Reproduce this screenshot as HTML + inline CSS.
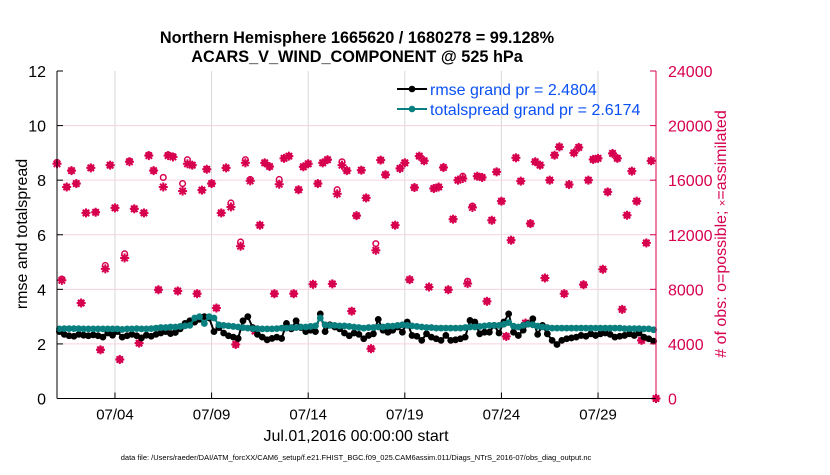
<!DOCTYPE html>
<html><head><meta charset="utf-8"><style>
body{margin:0;background:#fff;}
svg text{font-family:"Liberation Sans",Arial,sans-serif;}
</style></head><body>
<svg id="chart" width="830" height="470" xmlns="http://www.w3.org/2000/svg">
<g id="grid"></g>
<g id="series"></g>
<g id="axes"></g>
<text x="357" y="43" font-size="16.3" font-weight="bold" text-anchor="middle">Northern Hemisphere 1665620 / 1680278 = 99.128%</text>
<text x="357" y="62" font-size="16.3" font-weight="bold" text-anchor="middle">ACARS_V_WIND_COMPONENT @ 525 hPa</text>
<text transform="translate(27,234) rotate(-90)" font-size="16" text-anchor="middle">rmse and totalspread</text>
<text transform="translate(726,234) rotate(-90)" font-size="16" fill="#d6004f" text-anchor="middle"># of obs: o=possible; <tspan font-size="11">×</tspan>=assimilated</text>
<text x="356" y="441" font-size="16" text-anchor="middle">Jul.01,2016 00:00:00 start</text>
<text x="356" y="460" font-size="7.5" text-anchor="middle">data file: /Users/raeder/DAI/ATM_forcXX/CAM6_setup/f.e21.FHIST_BGC.f09_025.CAM6assim.011/Diags_NTrS_2016-07/obs_diag_output.nc</text>
<g>
<line x1="397" y1="89" x2="427" y2="89" stroke="#000" stroke-width="2"/><circle cx="412" cy="89" r="3.3" fill="#000"/>
<text x="430" y="95" font-size="16" fill="#0a50f5">rmse grand pr = 2.4804</text>
<line x1="397" y1="109" x2="427" y2="109" stroke="#0a7f7f" stroke-width="2"/><circle cx="412" cy="109" r="3.3" fill="#0a7f7f"/>
<text x="430" y="115" font-size="16" fill="#0a50f5">totalspread grand pr = 2.6174</text>
</g>
</svg>
<script>
const rmse=[2.45,2.35,2.30,2.28,2.35,2.32,2.30,2.33,2.30,2.25,2.40,2.32,
2.45,2.25,2.30,2.35,2.30,2.22,2.32,2.28,2.35,2.40,2.45,2.38,
2.42,2.55,2.75,2.85,2.80,2.90,3.00,2.95,2.45,2.60,2.40,2.30,
2.25,2.20,2.85,3.00,2.60,2.35,2.25,2.15,2.20,2.25,2.20,2.75,
2.55,2.85,2.60,2.45,2.50,2.45,3.10,2.45,2.70,2.62,2.55,2.40,
2.30,2.40,2.35,
2.19,2.31,2.37,2.90,2.50,2.43,2.50,2.62,2.43,2.80,2.31,2.28,2.13,2.37,2.25,2.19,2.13,2.31,2.13,2.15,
2.19,2.25,2.86,2.80,2.37,2.43,2.43,2.68,2.40,2.80,3.10,2.43,2.31,2.50,2.74,2.92,2.35,2.68,2.37,2.13,
1.98,2.13,2.19,2.22,2.25,2.31,2.28,2.37,2.31,2.37,2.40,2.35,2.25,2.28,2.31,2.37,2.31,2.40,2.25,2.19,2.10];
const spread=[2.55,2.56,2.56,2.56,2.56,2.55,2.55,2.55,2.55,2.55,2.55,2.55,
2.55,2.53,2.55,2.55,2.56,2.55,2.55,2.56,2.58,2.60,2.60,2.62,
2.62,2.64,2.66,2.68,2.95,3.00,2.75,3.00,2.95,2.70,2.68,2.66,
2.64,2.62,2.60,2.58,2.56,2.56,2.55,2.55,2.55,2.56,2.58,2.58,
2.60,2.60,2.62,2.62,2.64,2.66,2.95,2.70,2.68,2.68,2.66,2.66,
2.64,2.62,2.60,
2.58,2.60,2.60,2.62,2.62,2.65,2.65,2.68,2.70,2.68,2.66,2.64,2.62,2.60,2.60,2.58,2.58,2.58,2.58,2.58,
2.58,2.60,2.62,2.62,2.64,2.66,2.68,2.68,2.68,2.72,2.78,2.65,2.62,2.68,2.72,2.70,2.65,2.62,2.60,2.58,
2.58,2.58,2.58,2.58,2.58,2.58,2.58,2.58,2.58,2.58,2.58,2.58,2.58,2.58,2.56,2.56,2.56,2.56,2.55,2.55,2.52];
const nAssim=[17.2,8.66,15.5,16.7,15.75,7.0,13.6,16.9,13.65,3.57,
9.5,17.1,13.97,2.86,10.3,17.35,13.9,4.06,13.6,17.8,
16.7,7.97,15.5,17.8,17.7,7.88,15.2,17.2,17.1,7.68,
15.27,16.8,15.75,6.63,13.6,16.9,14.04,3.96,11.16,17.27,
15.95,4.94,12.7,17.27,17.0,7.68,15.7,17.6,17.76,7.68,
15.3,16.98,17.2,8.37,15.75,17.27,17.5,8.4,15.0,17.1,
16.7,6.4,13.4,
16.73,14.7,3.65,10.86,17.47,16.4,5.06,12.7,16.86,17.27,
8.71,15.46,17.76,17.42,8.17,15.39,15.5,16.93,7.97,13.14,
16.0,16.12,8.42,14.0,16.29,16.2,7.12,13.06,16.61,14.46,
4.55,11.6,17.64,15.93,5.53,12.82,17.35,17.1,8.83,16.0,
17.83,18.44,7.68,15.68,18.0,18.4,8.34,16.0,17.52,17.6,
9.47,15.14,17.96,17.6,6.53,13.43,16.66,14.46,4.26,11.4,
17.42,0];
const nPoss=[17.3,8.75,15.5,16.7,15.75,7.0,13.6,16.9,13.65,3.57,
9.75,17.1,13.97,2.86,10.6,17.4,13.9,4.06,13.6,17.85,
16.7,7.97,16.2,17.85,17.75,7.88,15.75,17.5,17.1,7.68,
15.27,16.8,15.75,6.63,13.6,16.9,14.33,3.96,11.47,17.5,
16.05,4.94,12.7,17.27,17.0,7.68,16.05,17.6,17.76,7.68,
15.3,16.98,17.2,8.37,15.75,17.27,17.5,8.4,15.3,17.35,
16.7,6.4,13.4,
16.73,14.7,3.65,11.35,17.47,16.4,5.06,12.7,16.86,17.27,
8.71,15.46,17.76,17.42,8.17,15.39,15.5,16.93,7.97,13.14,
16.0,16.29,8.6,14.1,16.29,16.2,7.12,13.06,16.61,14.46,
4.55,11.6,17.64,15.93,5.53,12.82,17.35,17.1,8.83,16.0,
17.83,18.44,7.68,15.68,18.0,18.4,8.34,16.0,17.52,17.6,
9.47,15.14,17.96,17.6,6.53,13.43,16.66,14.46,4.26,11.4,
17.42,0];
const leftTicks=[0,2,4,6,8,10,12];
const rightTicks=[0,4000,8000,12000,16000,20000,24000];
const dateTicks=[3,8,13,18,23,28];
const dateLabels=["07/04","07/09","07/14","07/19","07/24","07/29"];

const NS="http://www.w3.org/2000/svg";
const X0=57,X1=656,Y0=398.5,Y1=71,DAYS=31;
const xs=t=>X0+(X1-X0)*t/DAYS;
const yl=v=>Y0-(Y0-Y1)*v/12;
const yr=v=>Y0-(Y0-Y1)*v/24000;
const RED="#d6004f",TEAL="#0a7f7f";
function mk(tag,attrs,parent){const e=document.createElementNS(NS,tag);for(const k in attrs)e.setAttribute(k,attrs[k]);parent.appendChild(e);return e;}
const grid=document.getElementById('grid'),ser=document.getElementById('series'),ax=document.getElementById('axes');

dateTicks.forEach((d,i)=>{
  const x=xs(d);
  const g=mk('line',{x1:x,x2:x,y1:Y1,y2:Y0,stroke:"#d8d8d8","stroke-width":1},grid);
  
  
  mk('line',{x1:x,x2:x,y1:Y0,y2:Y0-6,stroke:"#000"},ax);
  const t=mk('text',{x:x,y:Y0+21,"font-size":15,"text-anchor":"middle"},ax);
  t.textContent=dateLabels[i];
  
  
});
rightTicks.forEach(v=>{
  const y=yr(v);
  if(v>0&&v<24000){const g=mk('line',{x1:X0,x2:X1,y1:y,y2:y,stroke:"#f6d2dd","stroke-width":1},grid);
  
  }
  mk('line',{x1:X1,x2:X1-6,y1:y,y2:y,stroke:RED},ax);
  const t=mk('text',{x:X1+12,y:y+6,"font-size":16,fill:RED},ax);
  t.textContent=v;
  
  
});
leftTicks.forEach(v=>{
  const y=yl(v);
  mk('line',{x1:X0,x2:X0+6,y1:y,y2:y,stroke:"#000"},ax);
  const t=mk('text',{x:X0-11,y:y+6,"font-size":16,"text-anchor":"end"},ax);
  t.textContent=v;
  
  
});
const la=mk('line',{x1:X0,x2:X0,y1:Y1,y2:Y0,stroke:"#000"},ax);


const lb=mk('line',{x1:X0,x2:X1,y1:Y0,y2:Y0,stroke:"#000"},ax);


const lr=mk('line',{x1:X1,x2:X1,y1:Y1,y2:Y0,stroke:RED},ax);



nPoss.forEach((v,i)=>{
  const x=xs(i*0.25),y=yr(v*1000);
  const c=mk('circle',{cx:x,cy:y,r:2.8,fill:"none",stroke:RED,"stroke-width":1.5},ser);
  
  
});
nAssim.forEach((v,i)=>{
  const x=xs(i*0.25),y=yr(v*1000);
  const g=mk('g',{stroke:RED,"stroke-width":2},ser);
  
  
  const r=4.5;
  mk('line',{x1:x-r,x2:x+r,y1:y,y2:y},g);
  mk('line',{x1:x,x2:x,y1:y-r,y2:y+r},g);
  mk('line',{x1:x-3.2,x2:x+3.2,y1:y-3.2,y2:y+3.2},g);
  mk('line',{x1:x-3.2,x2:x+3.2,y1:y+3.2,y2:y-3.2},g);
});
function lineSeries(arr,color,name){
  const pts=arr.map((v,i)=>xs(i*0.25+0.125).toFixed(1)+","+yl(v).toFixed(1)).join(" ");
  const p=mk('polyline',{points:pts,fill:"none",stroke:color,"stroke-width":2},ser);
  
  
  arr.forEach((v,i)=>{
    const c=mk('circle',{cx:xs(i*0.25+0.125),cy:yl(v),r:3.4,fill:color},ser);
    
    
  });
}
lineSeries(rmse,"#000","rmse");
lineSeries(spread,TEAL,"totalspread");
</script>
</body></html>
